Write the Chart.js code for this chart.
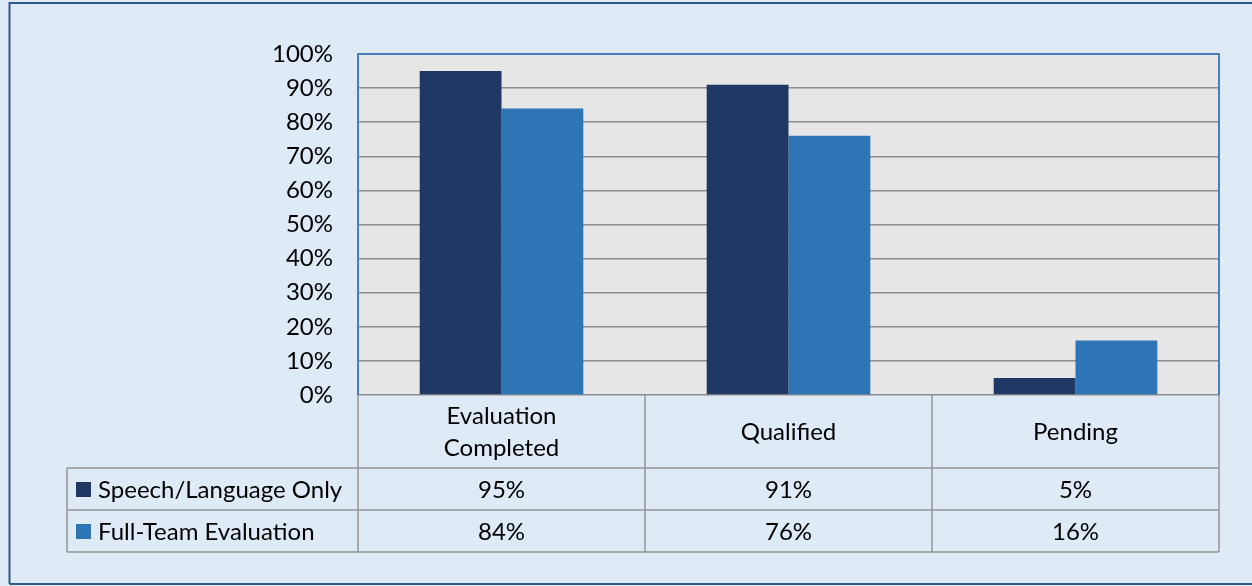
<!DOCTYPE html>
<html>
<head>
<meta charset="utf-8">
<script src="https://cdn.jsdelivr.net/npm/chart.js@4/dist/chart.umd.min.js"></script>
<style>
  html, body { margin: 0; padding: 0; background: #deeaf6; }
  canvas { display: block; }
</style>
</head>
<body>
<canvas id="evalChart" width="1252" height="586"></canvas>
<script>
// datos del grafico
const categories = [['Evaluation', 'Completed'], 'Qualified', 'Pending'];
const seriesNames = ['Speech/Language Only', 'Full-Team Evaluation'];
const speechOnly = [95, 91, 5];
const fullTeam = [84, 76, 16];
const seriesColors = ['#203864', '#2e75b6'];
const yMax = 100;
const yStep = 10;

const FONT = 'Lato, "Open Sans", sans-serif';
const FONT_SIZE = 24;

// fondo general + marco exterior + fondo del area de trazado
const fondoPlugin = {
    id: 'fondo',
    beforeDraw(chart){
        const ctx = chart.ctx;
        const a = chart.chartArea;
        ctx.save();
        ctx.fillStyle = '#deeaf6';
        ctx.fillRect(0, 0, chart.width, chart.height);
        ctx.strokeStyle = '#2f5b8a';
        ctx.lineWidth = 2;
        ctx.beginPath();
        ctx.moveTo(9.5, chart.height - 2);
        ctx.lineTo(9.5, 3);
        ctx.lineTo(chart.width + 2, 3);
        ctx.moveTo(9.5, chart.height - 2);
        ctx.lineTo(chart.width + 2, chart.height - 2);
        ctx.stroke();
        ctx.fillStyle = '#e6e6e6';
        ctx.fillRect(a.left, a.top, a.right - a.left, a.bottom - a.top);
        ctx.restore();
    },
    afterDatasetsDraw(chart){
        const ctx = chart.ctx;
        const a = chart.chartArea;
        ctx.save();
        ctx.strokeStyle = '#4a7ebb';
        ctx.lineWidth = 2;
        ctx.beginPath();
        ctx.moveTo(a.left, a.bottom);
        ctx.lineTo(a.left, a.top);
        ctx.lineTo(a.right, a.top);
        ctx.lineTo(a.right, a.bottom);
        ctx.stroke();
        ctx.restore();
    }
};

// tabla de datos bajo el eje x
const tablaPlugin = {
    id: 'tabla',
    afterDraw(chart){
        const ctx = chart.ctx;
        const a = chart.chartArea;
        const xs = chart.scales.x;
        const n = categories.length;
        const colW = (a.right - a.left) / n;
        const headerBottom = a.bottom + 73;
        const rowH = 42;
        const tableLeft = 67;
        const rowsBottom = headerBottom + rowH * seriesNames.length;

        ctx.save();
        ctx.strokeStyle = '#959595';
        ctx.lineWidth = 1.5;
        ctx.beginPath();
        for(let i=0;i<=n;i++){
            const x = a.left + i*colW;
            ctx.moveTo(x, a.bottom);
            ctx.lineTo(x, rowsBottom);
        }
        ctx.moveTo(tableLeft, headerBottom);
        ctx.lineTo(tableLeft, rowsBottom);
        for(let r=0;r<=seriesNames.length;r++){
            const y = headerBottom + r*rowH;
            ctx.moveTo(tableLeft, y);
            ctx.lineTo(a.right, y);
        }
        ctx.stroke();

        ctx.fillStyle = '#000';
        ctx.font = FONT_SIZE + 'px ' + FONT;
        ctx.textAlign = 'center';
        ctx.textBaseline = 'middle';

        // cabecera de categorias
        categories.forEach((cat, i) => {
            const cx = xs.getPixelForValue(i);
            const lines = Array.isArray(cat) ? cat : [cat];
            const midY = (a.bottom + headerBottom) / 2 + 1;
            const lh = 32;
            lines.forEach((t, k) => {
                ctx.fillText(t, cx, midY + (k - (lines.length-1)/2) * lh);
            });
        });

        // filas con leyenda y valores
        const series = [speechOnly, fullTeam];
        series.forEach((vals, r) => {
            const cy = headerBottom + r*rowH + rowH/2 + 1;
            ctx.fillStyle = seriesColors[r];
            ctx.fillRect(tableLeft + 9, cy - 8, 15, 15);
            ctx.fillStyle = '#000';
            ctx.textAlign = 'left';
            ctx.fillText(seriesNames[r], tableLeft + 31, cy);
            ctx.textAlign = 'center';
            vals.forEach((v, i) => {
                ctx.fillText(v + '%', xs.getPixelForValue(i), cy);
            });
        });
        ctx.restore();
    }
};

new Chart(document.getElementById('evalChart'), {
    type: 'bar',
    data: {
        labels: categories,
        datasets: [
            { label: seriesNames[0], data: speechOnly, backgroundColor: seriesColors[0] },
            { label: seriesNames[1], data: fullTeam, backgroundColor: seriesColors[1] }
        ]
    },
    options: {
        responsive: false,
        animation: false,
        devicePixelRatio: 1,
        layout: { padding: { top: 54, right: 33, bottom: 191, left: 10 } },
        datasets: { bar: { categoryPercentage: 0.57, barPercentage: 1.0 } },
        plugins: {
            legend: { display: false },
            tooltip: { enabled: false }
        },
        scales: {
            x: { display: false },
            y: {
                min: 0,
                max: yMax,
                afterFit(scale){ scale.width = 348; },
                border: { display: false },
                grid: { color: '#8c8c8c', lineWidth: 1.5, drawTicks: false },
                ticks: {
                    stepSize: yStep,
                    padding: 25,
                    color: '#000',
                    font: { family: FONT, size: FONT_SIZE },
                    callback: v => v + '%'
                }
            }
        }
    },
    plugins: [fondoPlugin, tablaPlugin]
});
</script>
</body>
</html>
